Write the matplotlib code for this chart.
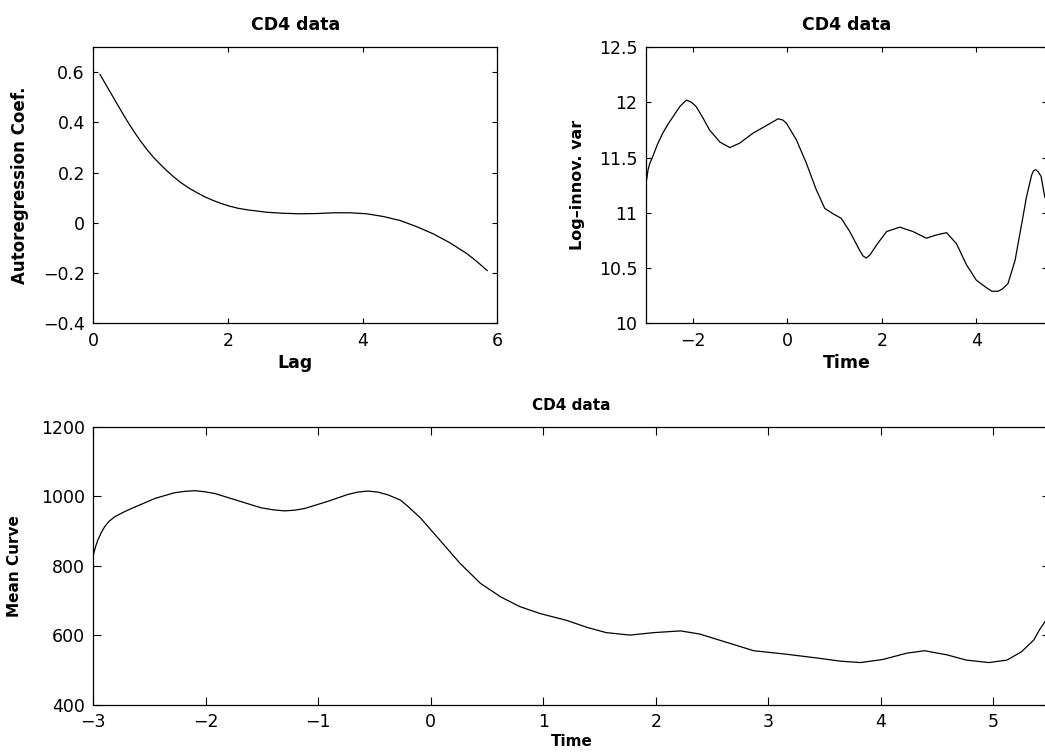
import numpy as np
import matplotlib
matplotlib.use('Agg')
import matplotlib.pyplot as plt

# autoregression coefficient vs lag
lag = [0.10, 0.20, 0.30, 0.40, 0.50, 0.60, 0.69, 0.79, 0.89, 0.99, 1.09, 1.19, 1.29, 1.41,
       1.54, 1.66, 1.79, 1.91, 2.03, 2.15, 2.28, 2.43, 2.58, 2.70, 2.82,
       3.07, 3.32, 3.57, 3.81, 4.06, 4.31, 4.56, 4.80, 5.05, 5.30, 5.55, 5.70, 5.85]
ar_coef = [0.591, 0.544, 0.498, 0.452, 0.407, 0.365, 0.330, 0.294, 0.262, 0.234, 0.208, 0.184, 0.162, 0.140,
           0.120, 0.103, 0.088, 0.076, 0.066, 0.058, 0.052, 0.047, 0.042, 0.040, 0.038,
           0.036, 0.037, 0.040, 0.040, 0.036, 0.025, 0.009, -0.015, -0.044, -0.080, -0.123, -0.155, -0.190]

# log innovation variance vs time
t_var = [-2.98, -2.95, -2.91, -2.85, -2.75, -2.64, -2.53, -2.42, -2.28, -2.14, -2.03, -1.93, -1.79,
         -1.65, -1.43, -1.22, -1.01, -0.73, -0.44, -0.32, -0.20, -0.10, -0.02, 0.19, 0.40, 0.61,
         0.79, 0.97, 1.14, 1.32, 1.53, 1.60, 1.67, 1.75, 1.89, 2.10, 2.38, 2.66, 2.94, 3.16, 3.37,
         3.58, 3.79, 4.00, 4.22, 4.33, 4.46, 4.55, 4.67, 4.82, 4.96, 5.06, 5.17, 5.21, 5.26, 5.31,
         5.37, 5.45]
log_var = [11.30, 11.39, 11.45, 11.51, 11.62, 11.72, 11.80, 11.87, 11.96, 12.02, 12.00, 11.96, 11.86,
           11.75, 11.64, 11.59, 11.63, 11.72, 11.79, 11.82, 11.85, 11.84, 11.81, 11.66, 11.45, 11.21,
           11.04, 10.99, 10.95, 10.83, 10.66, 10.61, 10.59, 10.62, 10.71, 10.83, 10.87, 10.83, 10.77, 10.80, 10.82,
           10.72, 10.53, 10.39, 10.32, 10.29, 10.29, 10.31, 10.36, 10.57, 10.90, 11.14, 11.34, 11.38, 11.39, 11.37,
           11.33, 11.14]

# mean curve vs time
t_mean = [-3.00, -2.98, -2.96, -2.93, -2.90, -2.86, -2.81, -2.74, -2.66, -2.45, -2.28, -2.19, -2.10,
          -2.01, -1.92, -1.71, -1.51, -1.40, -1.30, -1.21, -1.12, -0.91, -0.74, -0.65, -0.56, -0.47,
          -0.38, -0.27, -0.20, -0.09, 0.08, 0.26, 0.44, 0.62, 0.79, 0.97, 1.21, 1.39, 1.56, 1.77,
          1.98, 2.22, 2.39, 2.66, 2.87, 3.16, 3.46, 3.64, 3.82, 4.02, 4.23, 4.39, 4.59, 4.76, 4.96,
          5.12, 5.25, 5.36, 5.41, 5.46]
mean_curve = [831, 855, 874, 895, 912, 928, 941, 953, 965, 994, 1010, 1014, 1016,
              1013, 1008, 987, 967, 961, 958, 960, 965, 986, 1005, 1012, 1015, 1012,
              1004, 989, 970, 937, 874, 807, 750, 711, 683, 663, 643, 623, 608, 601,
              608, 613, 604, 577, 556, 546, 534, 526, 522, 531, 549, 556, 544, 529, 522,
              529, 553, 587, 616, 640]

plt.rcParams['font.family'] = 'DejaVu Sans'
plt.rcParams['axes.unicode_minus'] = True

W, H = 1045, 754
fig = plt.figure(figsize=(W / 100, H / 100), dpi=100)


def px_axes(x0, y0, x1, y1):
    return fig.add_axes([x0 / W, 1 - y1 / H, (x1 - x0) / W, (y1 - y0) / H])


def style(ax, fs, tl):
    ax.tick_params(direction='in', top=True, right=True, length=tl, width=0.8,
                   labelsize=fs, pad=6)
    for s in ax.spines.values():
        s.set_linewidth(0.9)


ax1 = px_axes(93.3, 47, 497.3, 323.3)
ax1.plot(lag, ar_coef, color='black', lw=0.9)
ax1.set_xlim(0, 6)
ax1.set_ylim(-0.4, 0.7)
ax1.set_xticks([0, 2, 4, 6])
ax1.set_yticks([-0.4, -0.2, 0, 0.2, 0.4, 0.6])
ax1.set_yticklabels(['\u22120.4', '\u22120.2', '0', '0.2', '0.4', '0.6'])
style(ax1, 12.5, 3.5)
ax1.set_title('CD4 data', fontsize=12.5, fontweight='bold', pad=12)
ax1.set_xlabel('Lag', fontsize=12.5, fontweight='bold', labelpad=3)
ax1.set_ylabel('Autoregression Coef.', fontsize=12, fontweight='bold', labelpad=10)

ax2 = px_axes(645.7, 47, 1047.2, 323.3)
ax2.plot(t_var, log_var, color='black', lw=0.9)
ax2.set_xlim(-3, 5.5)
ax2.set_ylim(10, 12.5)
ax2.set_xticks([-2, 0, 2, 4])
ax2.set_yticks([10, 10.5, 11, 11.5, 12, 12.5])
ax2.set_yticklabels(['10', '10.5', '11', '11.5', '12', '12.5'])
style(ax2, 12.5, 3.5)
ax2.set_title('CD4 data', fontsize=12.5, fontweight='bold', pad=12)
ax2.set_xlabel('Time', fontsize=12.5, fontweight='bold', labelpad=3)
ax2.set_ylabel('Log\u2013innov. var', fontsize=11.5, fontweight='bold', labelpad=10)

ax3 = px_axes(93.3, 426.7, 1049.6, 705)
ax3.plot(t_mean, mean_curve, color='black', lw=0.9)
ax3.set_xlim(-3, 5.5)
ax3.set_ylim(400, 1200)
ax3.set_xticks([-3, -2, -1, 0, 1, 2, 3, 4, 5])
ax3.set_yticks([400, 600, 800, 1000, 1200])
style(ax3, 12.5, 6)
ax3.set_title('CD4 data', fontsize=11, fontweight='bold', pad=12)
ax3.set_xlabel('Time', fontsize=11, fontweight='bold', labelpad=2)
ax3.set_ylabel('Mean Curve', fontsize=11, fontweight='bold', labelpad=14)

fig.savefig('out.png', dpi=100)
